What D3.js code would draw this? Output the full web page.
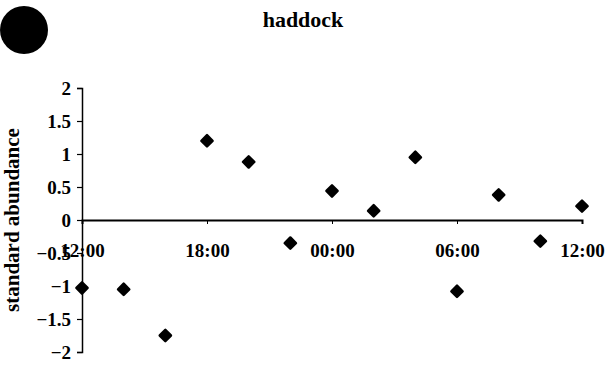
<!DOCTYPE html>
<html>
<head>
<meta charset="utf-8">
<script src="https://cdn.jsdelivr.net/npm/d3@7"></script>
<style>
  body { margin: 0; background: #fff; }
  text { font-family: "Liberation Serif", "DejaVu Serif", serif; font-weight: bold; }
</style>
</head>
<body>
<div id="chart"></div>
<script>
// hours after 12:00 (noon)
var hours = [0, 2, 4, 6, 8, 10, 12, 14, 16, 18, 20, 22, 24];
var abundance = [-1.03, -1.05, -1.75, 1.2, 0.88, -0.35, 0.44, 0.14, 0.95, -1.08, 0.38, -0.32, 0.21];
var xTickHours = [0, 6, 12, 18, 24];
var xTickLabels = ["12:00", "18:00", "00:00", "06:00", "12:00"];
var yTicks = [-2, -1.5, -1, -0.5, 0, 0.5, 1, 1.5, 2];

var width = 609, height = 366;

var svg = d3.select("#chart")
    .append("svg")
    .attr("width", width)
    .attr("height", height);

var xScale = d3.scaleLinear().domain([0, 24]).range([82, 582]);
var yScale = d3.scaleLinear().domain([-2, 2]).range([352, 88]);

// big black dot in the corner
svg.append("circle")
    .attr("cx", 24)
    .attr("cy", 30)
    .attr("r", 24)
    .attr("fill", "#000");

// title
svg.append("text")
    .attr("x", 303)
    .attr("y", 27)
    .attr("text-anchor", "middle")
    .style("font-size", "22px")
    .text("haddock");

// y axis
var yAxis = svg.append("g")
    .attr("transform", "translate(" + xScale(0) + ",0)")
    .call(d3.axisLeft(yScale).tickValues(yTicks).tickSize(5).tickPadding(6)
        .tickFormat(function(d) { return d3.format("")(d); }));
yAxis.select(".domain").attr("stroke-width", 1.5);
yAxis.selectAll("text").style("font-size", "19px").attr("fill", "#000");
yAxis.selectAll("line").attr("stroke-width", 1.2);

// x axis along zero
var xAxis = svg.append("g")
    .attr("transform", "translate(0," + yScale(0) + ")")
    .call(d3.axisBottom(xScale).tickValues(xTickHours).tickSize(4).tickPadding(20)
        .tickFormat(function(d, i) { return xTickLabels[i]; }));
xAxis.select(".domain").attr("stroke-width", 2);
xAxis.selectAll("text").style("font-size", "19px").attr("fill", "#000");

// y axis label
svg.append("text")
    .attr("transform", "translate(12,220) rotate(-90)")
    .attr("text-anchor", "middle")
    .attr("dy", "0.35em")
    .style("font-size", "21px")
    .text("standard abundance");

// diamond markers
svg.selectAll(".pt")
    .data(hours)
    .enter()
    .append("path")
    .attr("class", "pt")
    .attr("d", d3.symbol().type(d3.symbolDiamond2).size(80))
    .attr("transform", function(d, i) {
        return "translate(" + xScale(d) + "," + yScale(abundance[i]) + ")";
    })
    .attr("fill", "#000")
    .attr("stroke", "#000")
    .attr("stroke-linejoin", "round")
    .attr("stroke-width", 2.5);
</script>
</body>
</html>
